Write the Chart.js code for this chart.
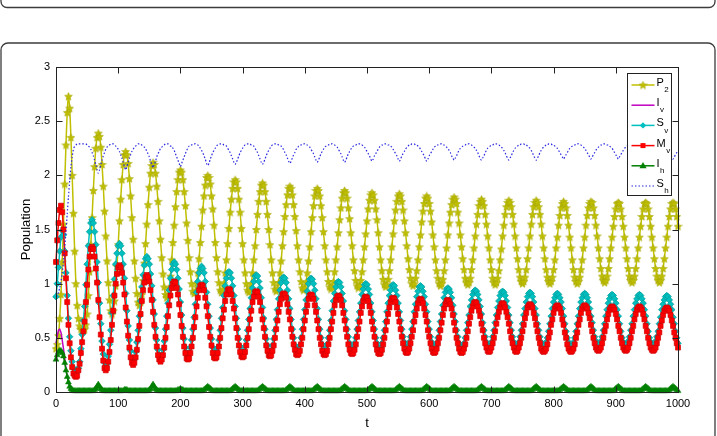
<!DOCTYPE html>
<html>
<head>
<meta charset="utf-8">
<script src="https://cdn.jsdelivr.net/npm/chart.js@4.4.1/dist/chart.umd.min.js"></script>
<style>
html,body{margin:0;padding:0;background:#fff}
#wrap{width:717px;height:436px}
</style>
</head>
<body>
<div id="wrap"><canvas id="c" width="717" height="436"></canvas></div>
<script>
// sample grid: t = 0,2,4,...,1000
const tStep = 2
const tValues = Array.from({length: 501}, (_, i) => i * tStep)

const xTicks = [0,100,200,300,400,500,600,700,800,900,1000]
const yTicks = [0,0.5,1,1.5,2,2.5,3]

// legend names: [main, subscript]
const names = [['P','2'],['I','v'],['S','v'],['M','v'],['I','h'],['S','h']]

// first 23 samples (t=0..44), then one row per oscillation (22 samples, t=46+44k .. 88+44k)
const P2 = [
0.40,0.44,0.52,0.68,0.90,1.20,1.55,1.92,2.28,2.58,2.73,2.62,2.35,2.00,1.65,1.30,1.00,0.80,0.68,0.61,0.58,0.57,0.57,
0.58,0.62,0.72,0.89,1.11,1.36,1.61,1.86,2.08,2.25,2.35,2.39,2.36,2.26,2.10,1.90,1.67,1.44,1.21,1.01,0.85,0.75,
0.72,0.75,0.84,0.98,1.16,1.36,1.58,1.78,1.96,2.10,2.19,2.22,2.19,2.11,1.97,1.81,1.61,1.41,1.21,1.05,0.91,0.83,
0.80,0.83,0.90,1.03,1.19,1.37,1.55,1.73,1.89,2.02,2.09,2.12,2.10,2.02,1.90,1.76,1.58,1.41,1.24,1.09,0.97,0.90,
0.87,0.89,0.96,1.07,1.22,1.38,1.54,1.71,1.85,1.96,2.03,2.05,2.03,1.96,1.85,1.72,1.56,1.40,1.24,1.11,1.00,0.93,
0.91,0.93,1.00,1.10,1.23,1.38,1.53,1.68,1.81,1.91,1.98,2.00,1.98,1.92,1.81,1.69,1.54,1.38,1.24,1.11,1.01,0.94,
0.92,0.94,1.00,1.10,1.22,1.37,1.51,1.66,1.78,1.88,1.94,1.96,1.94,1.88,1.78,1.66,1.51,1.37,1.22,1.10,1.00,0.94,
0.92,0.94,1.00,1.10,1.22,1.35,1.50,1.64,1.76,1.85,1.91,1.93,1.91,1.85,1.76,1.64,1.50,1.36,1.22,1.10,1.01,0.95,
0.93,0.95,1.01,1.10,1.21,1.35,1.48,1.62,1.73,1.82,1.88,1.90,1.88,1.82,1.73,1.62,1.49,1.35,1.22,1.11,1.02,0.96,
0.94,0.96,1.01,1.10,1.21,1.34,1.48,1.61,1.72,1.81,1.86,1.88,1.86,1.81,1.72,1.61,1.48,1.35,1.22,1.11,1.02,0.97,
0.95,0.97,1.02,1.11,1.22,1.34,1.47,1.59,1.70,1.79,1.84,1.86,1.84,1.79,1.70,1.60,1.47,1.35,1.22,1.12,1.03,0.98,
0.96,0.98,1.03,1.11,1.22,1.34,1.46,1.58,1.69,1.77,1.82,1.84,1.82,1.77,1.69,1.59,1.47,1.34,1.22,1.12,1.04,0.99,
0.97,0.99,1.04,1.12,1.22,1.34,1.46,1.58,1.68,1.76,1.81,1.83,1.81,1.76,1.68,1.58,1.47,1.35,1.23,1.13,1.05,1.00,
0.98,1.00,1.05,1.12,1.22,1.34,1.45,1.57,1.67,1.74,1.79,1.81,1.79,1.74,1.67,1.57,1.45,1.34,1.22,1.12,1.05,1.00,
0.98,1.00,1.04,1.12,1.22,1.33,1.45,1.56,1.66,1.73,1.78,1.80,1.78,1.74,1.66,1.56,1.45,1.34,1.23,1.13,1.05,1.01,
0.99,1.01,1.05,1.13,1.22,1.33,1.44,1.55,1.64,1.72,1.76,1.78,1.76,1.72,1.64,1.55,1.44,1.33,1.22,1.13,1.05,1.01,
0.99,1.01,1.05,1.12,1.22,1.32,1.44,1.54,1.64,1.71,1.75,1.77,1.75,1.71,1.64,1.55,1.44,1.33,1.23,1.13,1.06,1.02,
1.00,1.02,1.06,1.13,1.23,1.33,1.44,1.55,1.64,1.71,1.75,1.77,1.75,1.71,1.64,1.55,1.44,1.33,1.23,1.13,1.06,1.02,
1.00,1.02,1.06,1.13,1.22,1.33,1.43,1.54,1.63,1.70,1.74,1.76,1.74,1.70,1.63,1.54,1.43,1.33,1.22,1.13,1.06,1.02,
1.00,1.02,1.06,1.13,1.22,1.33,1.43,1.54,1.63,1.70,1.74,1.76,1.75,1.70,1.63,1.54,1.44,1.33,1.23,1.14,1.07,1.03,
1.01,1.03,1.07,1.14,1.23,1.33,1.43,1.53,1.62,1.69,1.74,1.75,1.74,1.69,1.62,1.53,1.43,1.33,1.23,1.14,1.07,1.03,
1.01,1.03,1.07,1.14,1.23,1.33,1.43,1.53,1.62,1.69,1.74,1.75,1.74,1.69,1.62,1.53,1.43,1.33,1.23,1.14,1.07,1.03,
1.01,1.03,1.07,1.14,1.23,1.33,1.43,1.53,1.62,1.69,1.74,1.75,1.74,1.69,1.62,1.53
]

const Iv = [
0.45,0.52,0.57,0.58,0.55,0.48,0.40,0.31,0.22,0.15,0.10,0.06,0.04,0.02,0.01,0,0,0,0,0,0,0,0,
0,0,0,0,0,0,0,0,0.01,0.03,0.05,0.06,0.05,0.03,0.01,0,0,0,0,0,0,0,
0,0,0,0,0,0,0,0,0.01,0.01,0.02,0.03,0.02,0.01,0.01,0,0,0,0,0,0,0,
0,0,0,0,0,0,0,0,0.01,0.03,0.05,0.06,0.05,0.03,0.01,0,0,0,0,0,0,0,
0,0,0,0,0,0,0,0,0.01,0.01,0.02,0.03,0.02,0.01,0.01,0,0,0,0,0,0,0,
0,0,0,0,0,0,0,0,0.01,0.02,0.03,0.04,0.03,0.02,0.01,0,0,0,0,0,0,0,
0,0,0,0,0,0,0,0,0.01,0.02,0.03,0.04,0.03,0.02,0.01,0,0,0,0,0,0,0,
0,0,0,0,0,0,0,0,0.01,0.02,0.03,0.04,0.03,0.02,0.01,0,0,0,0,0,0,0,
0,0,0,0,0,0,0,0,0.01,0.02,0.03,0.04,0.03,0.02,0.01,0,0,0,0,0,0,0,
0,0,0,0,0,0,0,0,0.01,0.02,0.03,0.04,0.03,0.02,0.01,0,0,0,0,0,0,0,
0,0,0,0,0,0,0,0,0.01,0.02,0.03,0.04,0.03,0.02,0.01,0,0,0,0,0,0,0,
0,0,0,0,0,0,0,0,0.01,0.02,0.03,0.04,0.03,0.02,0.01,0,0,0,0,0,0,0,
0,0,0,0,0,0,0,0,0.01,0.02,0.03,0.04,0.03,0.02,0.01,0,0,0,0,0,0,0,
0,0,0,0,0,0,0,0,0.01,0.02,0.03,0.04,0.03,0.02,0.01,0,0,0,0,0,0,0,
0,0,0,0,0,0,0,0,0.01,0.02,0.03,0.04,0.03,0.02,0.01,0,0,0,0,0,0,0,
0,0,0,0,0,0,0,0,0.01,0.02,0.03,0.04,0.03,0.02,0.01,0,0,0,0,0,0,0,
0,0,0,0,0,0,0,0,0.01,0.02,0.03,0.04,0.03,0.02,0.01,0,0,0,0,0,0,0,
0,0,0,0,0,0,0,0,0.01,0.02,0.03,0.04,0.03,0.02,0.01,0,0,0,0,0,0,0,
0,0,0,0,0,0,0,0,0.01,0.02,0.03,0.04,0.03,0.02,0.01,0,0,0,0,0,0,0,
0,0,0,0,0,0,0,0,0.01,0.02,0.03,0.04,0.03,0.02,0.01,0,0,0,0,0,0,0,
0,0,0,0,0,0,0,0,0.01,0.02,0.03,0.04,0.03,0.02,0.01,0,0,0,0,0,0,0,
0,0,0,0,0,0,0,0,0.01,0.02,0.03,0.04,0.03,0.02,0.01,0,0,0,0,0,0,0,
0,0,0,0,0,0,0,0,0.01,0.02,0.03,0.04,0.03,0.02,0.01,0
]

const Sv = [
0.88,1.00,1.15,1.30,1.43,1.49,1.45,1.30,1.10,0.89,0.68,0.51,0.38,0.28,0.22,0.19,0.18,0.19,0.22,0.28,0.40,0.53,0.66,
0.79,0.99,1.18,1.35,1.48,1.56,1.59,1.56,1.48,1.36,1.20,1.01,0.82,0.63,0.47,0.35,0.27,0.24,0.26,0.33,0.44,0.57,
0.73,0.89,1.04,1.18,1.28,1.35,1.37,1.35,1.28,1.18,1.05,0.91,0.75,0.61,0.48,0.38,0.31,0.29,0.31,0.37,0.46,0.57,
0.70,0.84,0.97,1.08,1.17,1.23,1.25,1.23,1.18,1.09,0.98,0.85,0.72,0.59,0.48,0.39,0.34,0.32,0.34,0.39,0.47,0.58,
0.70,0.82,0.94,1.05,1.13,1.18,1.20,1.18,1.13,1.05,0.95,0.83,0.71,0.59,0.49,0.41,0.36,0.34,0.36,0.41,0.48,0.58,
0.69,0.81,0.92,1.02,1.10,1.14,1.16,1.14,1.10,1.02,0.92,0.81,0.70,0.59,0.49,0.41,0.37,0.35,0.37,0.41,0.48,0.57,
0.68,0.78,0.89,0.98,1.05,1.10,1.11,1.10,1.05,0.98,0.89,0.79,0.68,0.58,0.49,0.42,0.38,0.36,0.37,0.42,0.48,0.57,
0.67,0.77,0.87,0.96,1.02,1.07,1.08,1.07,1.02,0.96,0.87,0.78,0.68,0.58,0.49,0.43,0.38,0.37,0.38,0.43,0.49,0.57,
0.67,0.76,0.86,0.94,1.01,1.05,1.06,1.05,1.01,0.94,0.86,0.77,0.67,0.58,0.50,0.43,0.39,0.38,0.39,0.43,0.50,0.58,
0.67,0.76,0.85,0.93,1.00,1.04,1.05,1.04,1.00,0.94,0.86,0.77,0.67,0.58,0.50,0.44,0.40,0.39,0.40,0.44,0.50,0.57,
0.66,0.75,0.84,0.91,0.97,1.01,1.02,1.01,0.97,0.91,0.84,0.75,0.67,0.58,0.51,0.45,0.41,0.40,0.41,0.45,0.50,0.58,
0.66,0.74,0.82,0.90,0.95,0.99,1.00,0.99,0.95,0.90,0.82,0.74,0.66,0.58,0.50,0.45,0.41,0.40,0.41,0.45,0.50,0.57,
0.65,0.74,0.82,0.89,0.94,0.98,0.99,0.98,0.94,0.89,0.82,0.74,0.66,0.58,0.51,0.46,0.42,0.41,0.42,0.46,0.51,0.58,
0.65,0.74,0.81,0.88,0.93,0.97,0.98,0.97,0.93,0.88,0.81,0.74,0.65,0.58,0.51,0.46,0.42,0.41,0.42,0.45,0.50,0.57,
0.65,0.72,0.80,0.87,0.92,0.95,0.96,0.95,0.92,0.87,0.80,0.72,0.65,0.57,0.51,0.45,0.42,0.41,0.42,0.45,0.50,0.57,
0.64,0.71,0.79,0.85,0.90,0.93,0.94,0.93,0.90,0.85,0.79,0.72,0.64,0.57,0.51,0.46,0.43,0.42,0.43,0.46,0.51,0.57,
0.64,0.71,0.78,0.84,0.89,0.92,0.93,0.92,0.89,0.84,0.78,0.71,0.64,0.57,0.51,0.46,0.43,0.42,0.43,0.46,0.51,0.57,
0.63,0.71,0.77,0.83,0.88,0.91,0.92,0.91,0.88,0.83,0.77,0.71,0.63,0.57,0.51,0.46,0.43,0.42,0.43,0.46,0.50,0.56,
0.63,0.70,0.77,0.83,0.87,0.90,0.91,0.90,0.87,0.83,0.77,0.70,0.63,0.56,0.50,0.46,0.43,0.42,0.43,0.46,0.50,0.56,
0.63,0.70,0.77,0.83,0.87,0.90,0.91,0.90,0.87,0.83,0.77,0.70,0.64,0.57,0.51,0.47,0.44,0.43,0.44,0.47,0.51,0.57,
0.63,0.70,0.76,0.82,0.86,0.89,0.90,0.89,0.86,0.82,0.76,0.70,0.63,0.56,0.50,0.46,0.44,0.43,0.44,0.47,0.51,0.57,
0.63,0.70,0.76,0.82,0.86,0.89,0.90,0.89,0.86,0.82,0.76,0.70,0.63,0.56,0.50,0.46,0.44,0.43,0.44,0.47,0.51,0.56,
0.63,0.69,0.76,0.81,0.85,0.88,0.89,0.88,0.85,0.81,0.76,0.69,0.63,0.56,0.50,0.45
]

const Mv = [
1.20,1.40,1.56,1.68,1.72,1.66,1.50,1.28,1.05,0.83,0.62,0.45,0.32,0.23,0.17,0.15,0.14,0.15,0.20,0.26,0.36,0.46,0.56,
0.65,0.83,0.99,1.13,1.25,1.32,1.34,1.32,1.25,1.14,1.01,0.85,0.69,0.53,0.40,0.29,0.22,0.20,0.22,0.28,0.37,0.48,
0.62,0.75,0.89,1.00,1.09,1.15,1.17,1.15,1.10,1.01,0.90,0.78,0.65,0.52,0.41,0.32,0.27,0.25,0.27,0.32,0.39,0.49,
0.61,0.72,0.84,0.94,1.01,1.06,1.08,1.06,1.02,0.94,0.85,0.74,0.62,0.51,0.42,0.34,0.30,0.28,0.30,0.34,0.41,0.50,
0.60,0.70,0.80,0.89,0.96,1.00,1.02,1.01,0.96,0.90,0.81,0.71,0.61,0.51,0.42,0.36,0.31,0.30,0.31,0.36,0.42,0.50,
0.60,0.69,0.79,0.87,0.94,0.98,0.99,0.98,0.94,0.87,0.79,0.70,0.60,0.51,0.43,0.36,0.32,0.31,0.32,0.36,0.42,0.50,
0.59,0.68,0.76,0.84,0.90,0.94,0.95,0.94,0.90,0.84,0.77,0.68,0.59,0.50,0.43,0.37,0.33,0.32,0.33,0.37,0.43,0.50,
0.58,0.67,0.75,0.83,0.88,0.92,0.93,0.92,0.88,0.83,0.75,0.67,0.59,0.51,0.43,0.38,0.34,0.33,0.34,0.38,0.43,0.50,
0.58,0.66,0.74,0.81,0.86,0.90,0.91,0.90,0.87,0.81,0.74,0.67,0.58,0.51,0.44,0.39,0.35,0.34,0.35,0.38,0.44,0.50,
0.58,0.66,0.74,0.80,0.86,0.89,0.90,0.89,0.86,0.80,0.74,0.66,0.58,0.50,0.44,0.38,0.35,0.34,0.35,0.38,0.44,0.50,
0.58,0.65,0.73,0.80,0.85,0.88,0.89,0.88,0.85,0.80,0.73,0.66,0.58,0.51,0.44,0.39,0.36,0.35,0.36,0.39,0.44,0.51,
0.58,0.65,0.73,0.79,0.84,0.87,0.88,0.87,0.84,0.79,0.73,0.65,0.58,0.51,0.44,0.39,0.36,0.35,0.36,0.39,0.44,0.50,
0.57,0.65,0.72,0.78,0.83,0.86,0.87,0.86,0.83,0.78,0.72,0.65,0.58,0.51,0.45,0.40,0.37,0.36,0.37,0.40,0.45,0.51,
0.57,0.65,0.71,0.77,0.82,0.85,0.86,0.85,0.82,0.77,0.71,0.65,0.57,0.51,0.45,0.40,0.37,0.36,0.37,0.40,0.45,0.50,
0.57,0.64,0.71,0.77,0.81,0.84,0.85,0.84,0.81,0.77,0.71,0.64,0.57,0.50,0.45,0.40,0.37,0.36,0.37,0.40,0.44,0.50,
0.56,0.63,0.69,0.75,0.79,0.82,0.83,0.82,0.79,0.75,0.70,0.63,0.57,0.50,0.45,0.41,0.38,0.37,0.38,0.41,0.45,0.50,
0.56,0.63,0.69,0.74,0.78,0.81,0.82,0.81,0.78,0.74,0.69,0.63,0.56,0.50,0.45,0.41,0.38,0.37,0.38,0.41,0.45,0.50,
0.56,0.62,0.68,0.73,0.78,0.80,0.81,0.80,0.78,0.73,0.68,0.62,0.56,0.50,0.45,0.40,0.38,0.37,0.38,0.40,0.44,0.50,
0.55,0.62,0.67,0.73,0.77,0.79,0.80,0.79,0.77,0.73,0.67,0.62,0.55,0.50,0.44,0.40,0.38,0.37,0.38,0.40,0.44,0.50,
0.55,0.62,0.67,0.73,0.77,0.79,0.80,0.79,0.77,0.73,0.68,0.62,0.56,0.50,0.45,0.41,0.39,0.38,0.39,0.41,0.45,0.50,
0.56,0.61,0.67,0.72,0.76,0.78,0.79,0.78,0.76,0.72,0.67,0.61,0.56,0.50,0.45,0.41,0.39,0.38,0.39,0.41,0.45,0.50,
0.56,0.61,0.67,0.72,0.76,0.78,0.79,0.78,0.76,0.72,0.67,0.61,0.56,0.50,0.45,0.41,0.39,0.38,0.39,0.41,0.45,0.50,
0.55,0.61,0.66,0.71,0.75,0.77,0.78,0.77,0.75,0.71,0.66,0.61,0.55,0.50,0.45,0.41
]

const Ih = [
0.30,0.34,0.37,0.38,0.38,0.36,0.33,0.27,0.20,0.14,0.09,0.05,0.03,0.02,0.01,0.01,0.01,0.01,0.01,0.01,0.01,0.01,0.01,
0.01,0.01,0.01,0.01,0.01,0.01,0.01,0.01,0.02,0.03,0.05,0.07,0.05,0.03,0.02,0.01,0.01,0.01,0.01,0.01,0.01,0.01,
0.01,0.01,0.01,0.01,0.01,0.01,0.01,0.01,0.01,0.01,0.02,0.02,0.02,0.01,0.01,0.01,0.01,0.01,0.01,0.01,0.01,0.01,
0.01,0.01,0.01,0.01,0.01,0.01,0.01,0.01,0.02,0.03,0.05,0.07,0.05,0.03,0.02,0.01,0.01,0.01,0.01,0.01,0.01,0.01,
0.01,0.01,0.01,0.01,0.01,0.01,0.01,0.01,0.01,0.02,0.02,0.03,0.02,0.02,0.01,0.01,0.01,0.01,0.01,0.01,0.01,0.01,
0.01,0.01,0.01,0.01,0.01,0.01,0.01,0.01,0.02,0.03,0.04,0.05,0.04,0.03,0.02,0.01,0.01,0.01,0.01,0.01,0.01,0.01,
0.01,0.01,0.01,0.01,0.01,0.01,0.01,0.01,0.02,0.03,0.04,0.05,0.04,0.03,0.02,0.01,0.01,0.01,0.01,0.01,0.01,0.01,
0.01,0.01,0.01,0.01,0.01,0.01,0.01,0.01,0.02,0.03,0.04,0.05,0.04,0.03,0.02,0.01,0.01,0.01,0.01,0.01,0.01,0.01,
0.01,0.01,0.01,0.01,0.01,0.01,0.01,0.01,0.02,0.03,0.04,0.05,0.04,0.03,0.02,0.01,0.01,0.01,0.01,0.01,0.01,0.01,
0.01,0.01,0.01,0.01,0.01,0.01,0.01,0.01,0.02,0.03,0.04,0.05,0.04,0.03,0.02,0.01,0.01,0.01,0.01,0.01,0.01,0.01,
0.01,0.01,0.01,0.01,0.01,0.01,0.01,0.01,0.02,0.03,0.04,0.05,0.04,0.03,0.02,0.01,0.01,0.01,0.01,0.01,0.01,0.01,
0.01,0.01,0.01,0.01,0.01,0.01,0.01,0.01,0.02,0.03,0.04,0.05,0.04,0.03,0.02,0.01,0.01,0.01,0.01,0.01,0.01,0.01,
0.01,0.01,0.01,0.01,0.01,0.01,0.01,0.01,0.02,0.03,0.04,0.05,0.04,0.03,0.02,0.01,0.01,0.01,0.01,0.01,0.01,0.01,
0.01,0.01,0.01,0.01,0.01,0.01,0.01,0.01,0.02,0.03,0.04,0.05,0.04,0.03,0.02,0.01,0.01,0.01,0.01,0.01,0.01,0.01,
0.01,0.01,0.01,0.01,0.01,0.01,0.01,0.01,0.02,0.03,0.04,0.05,0.04,0.03,0.02,0.01,0.01,0.01,0.01,0.01,0.01,0.01,
0.01,0.01,0.01,0.01,0.01,0.01,0.01,0.01,0.02,0.03,0.04,0.05,0.04,0.03,0.02,0.01,0.01,0.01,0.01,0.01,0.01,0.01,
0.01,0.01,0.01,0.01,0.01,0.01,0.01,0.01,0.02,0.03,0.04,0.05,0.04,0.03,0.02,0.01,0.01,0.01,0.01,0.01,0.01,0.01,
0.01,0.01,0.01,0.01,0.01,0.01,0.01,0.01,0.02,0.03,0.04,0.05,0.04,0.03,0.02,0.01,0.01,0.01,0.01,0.01,0.01,0.01,
0.01,0.01,0.01,0.01,0.01,0.01,0.01,0.01,0.02,0.03,0.04,0.05,0.04,0.03,0.02,0.01,0.01,0.01,0.01,0.01,0.01,0.01,
0.01,0.01,0.01,0.01,0.01,0.01,0.01,0.01,0.02,0.03,0.04,0.05,0.04,0.03,0.02,0.01,0.01,0.01,0.01,0.01,0.01,0.01,
0.01,0.01,0.01,0.01,0.01,0.01,0.01,0.01,0.02,0.03,0.04,0.05,0.04,0.03,0.02,0.01,0.01,0.01,0.01,0.01,0.01,0.01,
0.01,0.01,0.01,0.01,0.01,0.01,0.01,0.01,0.02,0.03,0.04,0.05,0.04,0.03,0.02,0.01,0.01,0.01,0.01,0.01,0.01,0.01,
0.01,0.01,0.01,0.01,0.01,0.01,0.01,0.01,0.02,0.03,0.04,0.05,0.04,0.03,0.02,0.01
]

const Sh = [
0.88,0.89,0.92,0.96,1.02,1.10,1.20,1.33,1.48,1.64,1.80,1.95,2.08,2.17,2.24,2.27,2.28,2.29,2.29,2.29,2.29,2.29,2.29,
2.29,2.29,2.28,2.27,2.26,2.24,2.21,2.18,2.14,2.10,2.05,2.02,2.05,2.10,2.14,2.18,2.21,2.24,2.26,2.27,2.28,2.29,
2.29,2.29,2.28,2.27,2.26,2.24,2.22,2.19,2.16,2.12,2.08,2.05,2.08,2.12,2.16,2.19,2.22,2.24,2.26,2.27,2.28,2.29,
2.29,2.29,2.28,2.27,2.26,2.25,2.22,2.20,2.17,2.13,2.10,2.07,2.10,2.13,2.17,2.20,2.22,2.25,2.26,2.27,2.28,2.29,
2.29,2.29,2.28,2.27,2.27,2.25,2.23,2.20,2.17,2.14,2.11,2.08,2.11,2.14,2.17,2.20,2.23,2.25,2.27,2.27,2.28,2.29,
2.29,2.29,2.28,2.28,2.27,2.25,2.23,2.21,2.18,2.15,2.11,2.09,2.11,2.15,2.18,2.21,2.23,2.25,2.27,2.28,2.28,2.29,
2.29,2.29,2.28,2.28,2.27,2.25,2.23,2.21,2.18,2.15,2.12,2.10,2.12,2.15,2.18,2.21,2.23,2.25,2.27,2.28,2.28,2.29,
2.29,2.29,2.28,2.28,2.27,2.25,2.23,2.21,2.18,2.15,2.12,2.10,2.12,2.15,2.18,2.21,2.23,2.25,2.27,2.28,2.28,2.29,
2.29,2.29,2.28,2.28,2.27,2.25,2.24,2.21,2.19,2.16,2.13,2.11,2.13,2.16,2.19,2.21,2.24,2.25,2.27,2.28,2.28,2.29,
2.29,2.29,2.28,2.28,2.27,2.26,2.24,2.22,2.20,2.17,2.14,2.12,2.14,2.17,2.20,2.22,2.24,2.26,2.27,2.28,2.28,2.29,
2.29,2.29,2.28,2.28,2.27,2.26,2.24,2.22,2.20,2.17,2.14,2.12,2.14,2.17,2.20,2.22,2.24,2.26,2.27,2.28,2.28,2.29,
2.29,2.29,2.28,2.28,2.27,2.26,2.24,2.22,2.20,2.18,2.15,2.13,2.15,2.18,2.20,2.22,2.24,2.26,2.27,2.28,2.28,2.29,
2.29,2.29,2.28,2.28,2.27,2.26,2.24,2.22,2.20,2.18,2.15,2.13,2.15,2.18,2.20,2.22,2.24,2.26,2.27,2.28,2.28,2.29,
2.29,2.29,2.28,2.28,2.27,2.26,2.24,2.22,2.20,2.18,2.15,2.13,2.15,2.18,2.20,2.22,2.24,2.26,2.27,2.28,2.28,2.29,
2.29,2.29,2.28,2.28,2.27,2.26,2.25,2.23,2.21,2.18,2.16,2.14,2.16,2.18,2.21,2.23,2.25,2.26,2.27,2.28,2.28,2.29,
2.29,2.29,2.28,2.28,2.27,2.26,2.25,2.23,2.21,2.18,2.16,2.14,2.16,2.18,2.21,2.23,2.25,2.26,2.27,2.28,2.28,2.29,
2.29,2.29,2.28,2.28,2.27,2.26,2.25,2.23,2.21,2.18,2.16,2.14,2.16,2.18,2.21,2.23,2.25,2.26,2.27,2.28,2.28,2.29,
2.29,2.29,2.28,2.28,2.27,2.26,2.25,2.23,2.21,2.18,2.16,2.14,2.16,2.18,2.21,2.23,2.25,2.26,2.27,2.28,2.28,2.29,
2.29,2.29,2.28,2.28,2.27,2.26,2.25,2.23,2.21,2.19,2.17,2.15,2.17,2.19,2.21,2.23,2.25,2.26,2.27,2.28,2.28,2.29,
2.29,2.29,2.28,2.28,2.27,2.26,2.25,2.23,2.21,2.19,2.17,2.15,2.17,2.19,2.21,2.23,2.25,2.26,2.27,2.28,2.28,2.29,
2.29,2.29,2.28,2.28,2.27,2.26,2.25,2.23,2.21,2.19,2.17,2.15,2.17,2.19,2.21,2.23,2.25,2.26,2.27,2.28,2.28,2.29,
2.29,2.29,2.28,2.28,2.27,2.26,2.25,2.23,2.21,2.19,2.17,2.15,2.17,2.19,2.21,2.23,2.25,2.26,2.27,2.28,2.28,2.29,
2.29,2.29,2.28,2.28,2.27,2.26,2.25,2.23,2.21,2.19,2.17,2.15,2.17,2.19,2.21,2.23
]

// filled pentagram marker
function makeStar(size, fill, stroke){
  const c = document.createElement('canvas')
  c.width = c.height = size
  const g = c.getContext('2d')
  const cx = size/2, cy = size/2 + 0.4, R = size/2 - 0.4, r = R*0.45
  g.beginPath()
  for(let i=0;i<10;i++){
    const a = -Math.PI/2 + i*Math.PI/5
    const rad = i%2 ? r : R
    g.lineTo(cx + rad*Math.cos(a), cy + rad*Math.sin(a))
  }
  g.closePath()
  g.fillStyle = fill; g.fill()
  g.strokeStyle = stroke; g.lineWidth = 0.6; g.stroke()
  return c
}

const colP2 = '#bfbf00', colIv = '#bf00bf', colSv = '#00bfbf', colMv = '#ff0000', colIh = '#008000', colSh = '#2a2ae0'
const star = makeStar(9, colP2, '#a8a800')

const pts = arr => arr.map((v,i) => ({x: tValues[i], y: v}))

// legend specs (matlab order)
const legendItems = [
  {n: names[0], color: colP2, marker: 'star'},
  {n: names[1], color: colIv, marker: null},
  {n: names[2], color: colSv, marker: 'diamond'},
  {n: names[3], color: colMv, marker: 'square'},
  {n: names[4], color: colIh, marker: 'triangle'},
  {n: names[5], color: colSh, marker: null, dotted: true}
]

function drawMarker(ctx, type, x, y, color){
  ctx.fillStyle = color
  ctx.beginPath()
  if(type === 'square'){
    ctx.rect(x-2.5, y-2.5, 5, 5)
  }else if(type === 'diamond'){
    ctx.moveTo(x, y-3.2); ctx.lineTo(x+3.2, y); ctx.lineTo(x, y+3.2); ctx.lineTo(x-3.2, y); ctx.closePath()
  }else if(type === 'triangle'){
    ctx.moveTo(x, y-3.8); ctx.lineTo(x+3.6, y+2.4); ctx.lineTo(x-3.6, y+2.4); ctx.closePath()
  }else if(type === 'star'){
    ctx.drawImage(star, x - star.width/2, y - star.height/2)
    return
  }
  ctx.fill()
}

function roundRect(ctx, x, y, w, h, r){
  ctx.beginPath()
  ctx.moveTo(x+r, y)
  ctx.lineTo(x+w-r, y); ctx.arcTo(x+w, y, x+w, y+r, r)
  ctx.lineTo(x+w, y+h-r); ctx.arcTo(x+w, y+h, x+w-r, y+h, r)
  ctx.lineTo(x+r, y+h); ctx.arcTo(x, y+h, x, y+h-r, r)
  ctx.lineTo(x, y+r); ctx.arcTo(x, y, x+r, y, r)
  ctx.closePath()
}

const framePlugin = {
  id: 'frames',
  beforeDraw(chart){
    const ctx = chart.ctx
    ctx.save()
    ctx.fillStyle = '#fff'
    ctx.fillRect(0, 0, chart.width, chart.height)
    ctx.strokeStyle = '#3c3c3c'
    ctx.lineWidth = 1.3
    roundRect(ctx, 1, -40, 714, 47.5, 6); ctx.stroke()
    roundRect(ctx, 1, 43, 714, 460, 7); ctx.stroke()
    ctx.restore()
  }
}

const boxPlugin = {
  id: 'matlabBox',
  afterDatasetsDraw(chart){
    const {ctx, chartArea: a, scales: {x, y}} = chart
    ctx.save()
    ctx.strokeStyle = '#222'
    ctx.lineWidth = 1
    const L = Math.round(a.left)+0.5, R = Math.round(a.right)+0.5, T = Math.round(a.top)+0.5, B = Math.round(a.bottom)+0.5
    ctx.strokeRect(L, T, R-L, B-T)
    ctx.beginPath()
    xTicks.forEach(v => {
      const px = Math.round(x.getPixelForValue(v)) + 0.5
      ctx.moveTo(px, B); ctx.lineTo(px, B-6)
      ctx.moveTo(px, T); ctx.lineTo(px, T+6)
    })
    yTicks.forEach(v => {
      const py = Math.round(y.getPixelForValue(v)) + 0.5
      ctx.moveTo(L, py); ctx.lineTo(L+6, py)
      ctx.moveTo(R, py); ctx.lineTo(R-6, py)
    })
    ctx.stroke()

    // legend box
    const bx = R - 51, by = T + 6, bw = 44, bh = 122
    ctx.fillStyle = '#fff'
    ctx.fillRect(bx, by, bw, bh)
    ctx.strokeStyle = '#222'
    ctx.strokeRect(bx, by, bw, bh)
    legendItems.forEach((it, i) => {
      const cy = by + 11.5 + i*20.2
      ctx.strokeStyle = it.color
      ctx.lineWidth = it.dotted ? 1.2 : 1.5
      ctx.setLineDash(it.dotted ? [1.5, 2] : [])
      ctx.beginPath(); ctx.moveTo(bx+4, cy); ctx.lineTo(bx+27, cy); ctx.stroke()
      ctx.setLineDash([])
      if(it.marker) drawMarker(ctx, it.marker, bx+15.5, cy, it.color)
      ctx.fillStyle = '#000'
      ctx.textBaseline = 'middle'
      ctx.textAlign = 'left'
      ctx.font = '11px "Liberation Sans", Arial, sans-serif'
      ctx.fillText(it.n[0], bx+29, cy-2)
      const w = ctx.measureText(it.n[0]).width
      ctx.font = '8px "Liberation Sans", Arial, sans-serif'
      ctx.fillText(it.n[1], bx+29+w+0.5, cy+5)
    })
    ctx.restore()
  }
}

const tickFont = {family: '"Liberation Sans", Arial, sans-serif', size: 11}
const titleFont = {family: '"Liberation Sans", Arial, sans-serif', size: 13}

new Chart(document.getElementById('c'), {
  type: 'line',
  data: {
    datasets: [
      {label: 'Sh', data: pts(Sh), borderColor: colSh, borderWidth: 1.2, borderDash: [1.5, 2], pointRadius: 0, tension: 0.2},
      {label: 'Ih', data: pts(Ih), borderColor: colIh, borderWidth: 1.5, pointStyle: 'triangle', pointRadius: 3.4,
        pointBackgroundColor: colIh, pointBorderColor: colIh, pointBorderWidth: 0.5, tension: 0},
      {label: 'Mv', data: pts(Mv), borderColor: colMv, borderWidth: 1.5, pointStyle: 'rect', pointRadius: 3.5,
        pointBackgroundColor: colMv, pointBorderColor: '#d40000', pointBorderWidth: 0.7, tension: 0.2},
      {label: 'Sv', data: pts(Sv), borderColor: colSv, borderWidth: 1.5, pointStyle: 'rectRot', pointRadius: 3.3,
        pointBackgroundColor: colSv, pointBorderColor: '#009c9c', pointBorderWidth: 0.7, tension: 0.2},
      {label: 'Iv', data: pts(Iv), borderColor: colIv, borderWidth: 1.5, pointRadius: 0, tension: 0},
      {label: 'P2', data: pts(P2), borderColor: colP2, borderWidth: 1.5, pointStyle: star, pointRadius: 4, tension: 0.2}
    ]
  },
  options: {
    responsive: false,
    animation: false,
    devicePixelRatio: 1,
    layout: {padding: {left: 0, right: 39, top: 67, bottom: 0}},
    plugins: {legend: {display: false}, tooltip: {enabled: false}},
    elements: {point: {hoverRadius: 0}},
    datasets: {line: {clip: 5}},
    scales: {
      x: {
        type: 'linear', min: 0, max: 1000,
        afterBuildTicks: s => { s.ticks = xTicks.map(v => ({value: v})) },
        afterFit: s => { s.height = 44 },
        ticks: {color: '#000', font: tickFont, padding: 5, maxRotation: 0, callback: v => String(v)},
        grid: {display: false, drawTicks: false},
        border: {display: false},
        title: {display: true, text: 't', color: '#000', font: titleFont, padding: {top: 0, bottom: 5}}
      },
      y: {
        min: 0, max: 3,
        afterBuildTicks: s => { s.ticks = yTicks.map(v => ({value: v})) },
        afterFit: s => { s.width = 56 },
        ticks: {color: '#000', font: tickFont, padding: 6, callback: v => String(v)},
        grid: {display: false, drawTicks: false},
        border: {display: false},
        title: {display: true, text: 'Population', color: '#000', font: titleFont, padding: {top: 19, bottom: 0}}
      }
    }
  },
  plugins: [framePlugin, boxPlugin]
})
</script>
</body>
</html>
